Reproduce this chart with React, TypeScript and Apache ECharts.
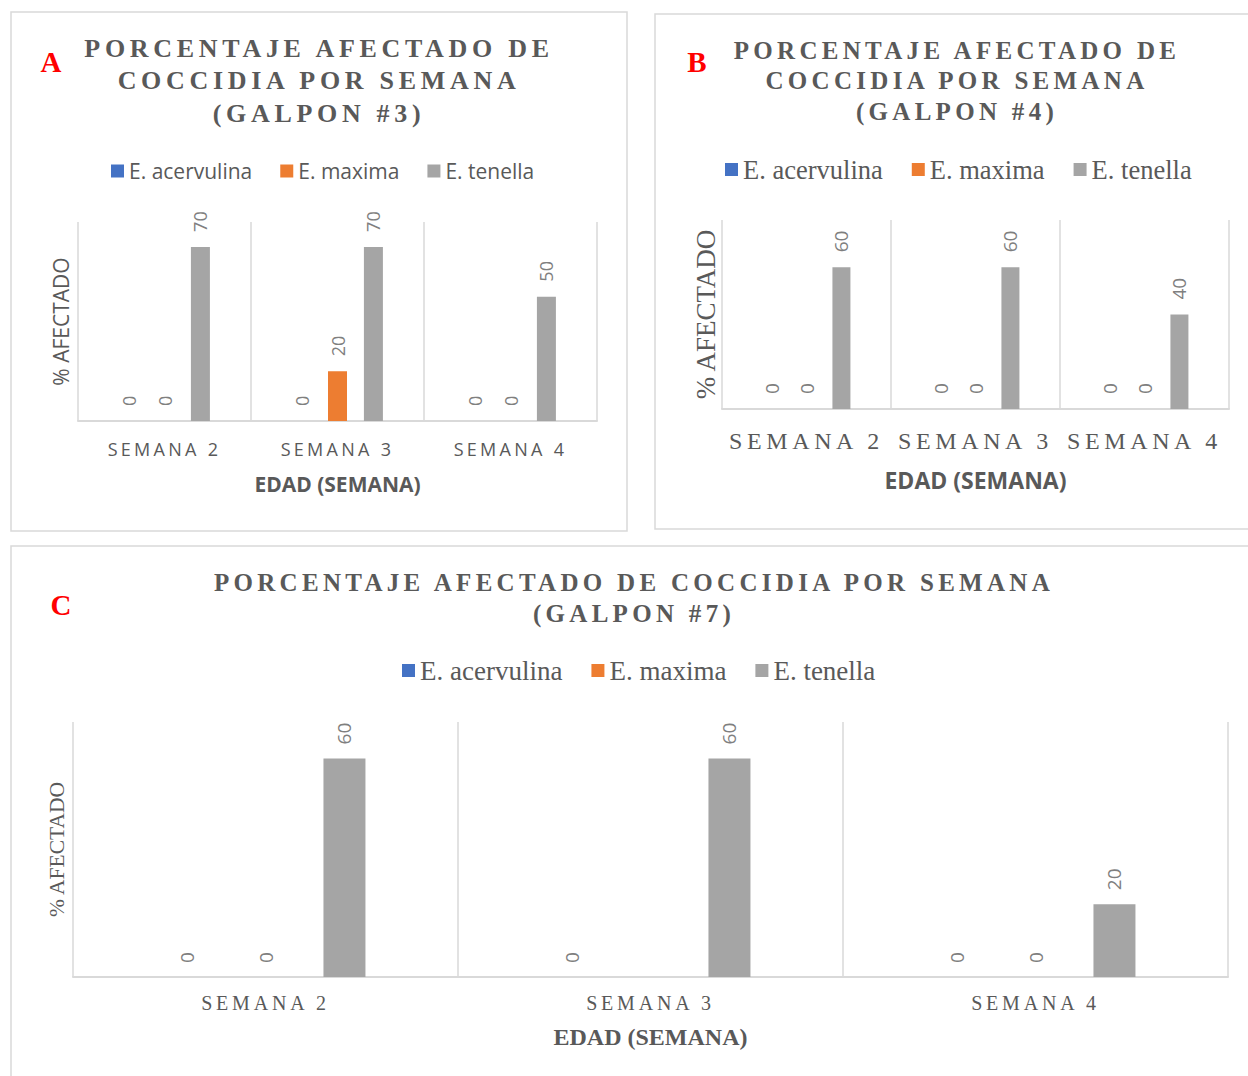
import React, { useEffect, useRef } from 'react';
import * as echarts from 'echarts';

// ---------- DATA ----------
const categories = ['SEMANA 2', 'SEMANA 3', 'SEMANA 4'];
const speciesNames = ['E. acervulina', 'E. maxima', 'E. tenella'];
const speciesColors = ['#4472C4', '#ED7D31', '#A5A5A5'];

// Galpon #3 (A)
const galpon3Acervulina = [0, 0, 0];
const galpon3Maxima = [0, 20, 0];
const galpon3Tenella = [70, 70, 50];

// Galpon #4 (B)
const galpon4Acervulina = [0, 0, 0];
const galpon4Maxima = [0, 0, 0];
const galpon4Tenella = [60, 60, 40];

// Galpon #7 (C)
const galpon7Acervulina = [0, 0, 0];
const galpon7Maxima: (number | null)[] = [0, null, 0];
const galpon7Tenella = [60, 60, 20];

const titleA = 'PORCENTAJE AFECTADO DE\nCOCCIDIA POR SEMANA\n(GALPON #3)';
const titleB = 'PORCENTAJE AFECTADO DE\nCOCCIDIA POR SEMANA\n(GALPON #4)';
const titleC = 'PORCENTAJE AFECTADO DE COCCIDIA POR SEMANA\n(GALPON #7)';
const xAxisTitle = 'EDAD (SEMANA)';
const yAxisTitle = '% AFECTADO';

// ---------- STYLE ----------
const SERIF = '"Liberation Serif", "Times New Roman", serif';
const SANS = '"Open Sans", sans-serif';
const TEXT = '#595959';
const LABEL = '#7f7f7f';
const LINE = '#d9d9d9';

const panels = [
  {
    values: [galpon3Acervulina, galpon3Maxima, galpon3Tenella],
    grid: { left: 78, top: 222, width: 519, height: 199 },
    max: 80,
    barWidth: 19,
    barGap: '89%',
    labelFont: SANS, labelSize: 18, labelDist: 15,
    catFont: SANS, catSize: 18, catMargin: 19,
    xNameFont: SANS, xNameSize: 21, xNameGap: 52,
    yNameFont: SANS, yNameSize: 21, yNameGap: 7,
    legend: { left: 111, top: 158, font: SANS, size: 21, gap: 28 },
  },
  {
    values: [galpon4Acervulina, galpon4Maxima, galpon4Tenella],
    grid: { left: 722, top: 220, width: 507, height: 189 },
    max: 80,
    barWidth: 18,
    barGap: '94%',
    labelFont: SANS, labelSize: 19, labelDist: 15,
    catFont: SERIF, catSize: 24, catMargin: 20,
    xNameFont: SANS, xNameSize: 23, xNameGap: 59,
    yNameFont: SERIF, yNameSize: 27, yNameGap: 3,
    legend: { left: 725, top: 156, font: SERIF, size: 26.5, gap: 29 },
  },
  {
    values: [galpon7Acervulina, galpon7Maxima, galpon7Tenella],
    grid: { left: 73, top: 722, width: 1155, height: 255 },
    max: 70,
    barWidth: 42,
    barGap: '88%',
    labelFont: SANS, labelSize: 19, labelDist: 14,
    catFont: SERIF, catSize: 20, catMargin: 16,
    xNameFont: SERIF, xNameSize: 24, xNameGap: 48,
    yNameFont: SERIF, yNameSize: 21.5, yNameGap: 5,
    legend: { left: 402, top: 657, font: SERIF, size: 27, gap: 29 },
  },
];

const spacingRules = [
  { test: /PORCENTAJE|COCCIDIA|GALPON/, size: 26, ls: 4.7 },
  { test: /PORCENTAJE|COCCIDIA|GALPON/, size: 25, ls: 4.3 },
  { test: /^SEMANA \d$/, size: 18, ls: 3.3 },
  { test: /^SEMANA \d$/, size: 24, ls: 4.6 },
  { test: /^SEMANA \d$/, size: 20, ls: 3.8 },
];

function buildOption() {
  const grids: any[] = [];
  const xAxes: any[] = [];
  const yAxes: any[] = [];
  const series: any[] = [];
  const legends: any[] = [];

  panels.forEach((p, i) => {
    grids.push({ ...p.grid, containLabel: false });
    xAxes.push({
      type: 'category',
      gridIndex: i,
      data: categories,
      boundaryGap: true,
      axisLine: { show: true, lineStyle: { color: LINE, width: 2 } },
      axisTick: { show: false },
      splitLine: { show: true, lineStyle: { color: LINE, width: 1.5 } },
      axisLabel: {
        color: TEXT,
        fontFamily: p.catFont,
        fontSize: p.catSize,
        margin: p.catMargin,
        interval: 0,
      },
      name: xAxisTitle,
      nameLocation: 'middle',
      nameGap: p.xNameGap,
      nameTextStyle: {
        color: TEXT,
        fontFamily: p.xNameFont,
        fontSize: p.xNameSize,
        fontWeight: 'bold',
      },
    });
    yAxes.push({
      type: 'value',
      gridIndex: i,
      min: 0,
      max: p.max,
      axisLine: { show: false },
      axisTick: { show: false },
      axisLabel: { show: false },
      splitLine: { show: false },
      name: yAxisTitle,
      nameLocation: 'middle',
      nameRotate: 90,
      nameGap: p.yNameGap,
      nameTextStyle: {
        color: TEXT,
        fontFamily: p.yNameFont,
        fontSize: p.yNameSize,
      },
    });
    p.values.forEach((vals, s) => {
      series.push({
        type: 'bar',
        name: speciesNames[s],
        xAxisIndex: i,
        yAxisIndex: i,
        data: vals.map((v) => (v === null ? '-' : v)),
        barWidth: p.barWidth,
        barGap: p.barGap,
        itemStyle: { color: speciesColors[s] },
        label: {
          show: true,
          position: 'top',
          rotate: 90,
          align: 'left',
          verticalAlign: 'middle',
          distance: p.labelDist,
          color: LABEL,
          fontFamily: p.labelFont,
          fontSize: p.labelSize,
        },
      });
    });
    legends.push({
      left: p.legend.left,
      top: p.legend.top,
      padding: 0,
      orient: 'horizontal',
      itemWidth: 13,
      itemHeight: 13,
      itemGap: p.legend.gap,
      icon: 'rect',
      selectedMode: false,
      data: speciesNames,
      textStyle: {
        color: TEXT,
        fontFamily: p.legend.font,
        fontSize: p.legend.size,
        lineHeight: 26,
      },
    });
  });

  const graphics: any[] = [
    { type: 'rect', shape: { x: 11, y: 12, width: 616, height: 519 }, style: { fill: 'none', stroke: LINE, lineWidth: 1.5 } },
    { type: 'rect', shape: { x: 655, y: 14, width: 610, height: 515 }, style: { fill: 'none', stroke: LINE, lineWidth: 1.5 } },
    { type: 'rect', shape: { x: 11, y: 546, width: 1260, height: 560 }, style: { fill: 'none', stroke: LINE, lineWidth: 1.5 } },
    { type: 'text', x: 51, y: 62, style: { text: 'A', fill: '#FF0000', font: `bold 29px ${SERIF}`, align: 'center', verticalAlign: 'middle' } },
    { type: 'text', x: 697, y: 62, style: { text: 'B', fill: '#FF0000', font: `bold 29px ${SERIF}`, align: 'center', verticalAlign: 'middle' } },
    { type: 'text', x: 61, y: 605, style: { text: 'C', fill: '#FF0000', font: `bold 29px ${SERIF}`, align: 'center', verticalAlign: 'middle' } },
    { type: 'text', x: 319, y: 80.5, style: { text: titleA, fill: TEXT, font: `bold 26px ${SERIF}`, align: 'center', verticalAlign: 'middle', lineHeight: 32.5 } },
    { type: 'text', x: 957, y: 80.5, style: { text: titleB, fill: TEXT, font: `bold 25px ${SERIF}`, align: 'center', verticalAlign: 'middle', lineHeight: 30.5 } },
    { type: 'text', x: 634, y: 597.5, style: { text: titleC, fill: TEXT, font: `bold 25px ${SERIF}`, align: 'center', verticalAlign: 'middle', lineHeight: 31 } },
  ];

  return {
    animation: false,
    backgroundColor: '#ffffff',
    grid: grids,
    xAxis: xAxes,
    yAxis: yAxes,
    legend: legends,
    series,
    graphic: graphics,
  };
}

function applyLetterSpacing(root: HTMLElement) {
  const texts = root.querySelectorAll('text');
  texts.forEach((el) => {
    const content = (el.textContent || '').trim();
    const size = parseFloat(window.getComputedStyle(el).fontSize || '0');
    for (const r of spacingRules) {
      if (r.test.test(content) && Math.abs(size - r.size) < 0.5) {
        el.setAttribute('letter-spacing', String(r.ls));
        (el as any).style.letterSpacing = r.ls + 'px';
        break;
      }
    }
  });
}

export default function App() {
  const ref = useRef<HTMLDivElement>(null);
  useEffect(() => {
    if (!ref.current) return;
    const chart = echarts.init(ref.current, undefined, { renderer: 'svg' });
    chart.setOption(buildOption() as any);
    const el = ref.current;
    applyLetterSpacing(el);
    const onFinished = () => applyLetterSpacing(el);
    chart.on('finished', onFinished);
    const t = window.setTimeout(() => applyLetterSpacing(el), 50);
    return () => {
      window.clearTimeout(t);
      chart.off('finished', onFinished);
      chart.dispose();
    };
  }, []);
  return (
    <div
      ref={ref}
      style={{ position: 'absolute', left: 0, top: 0, width: 1248, height: 1076, background: '#fff' }}
    />
  );
}
